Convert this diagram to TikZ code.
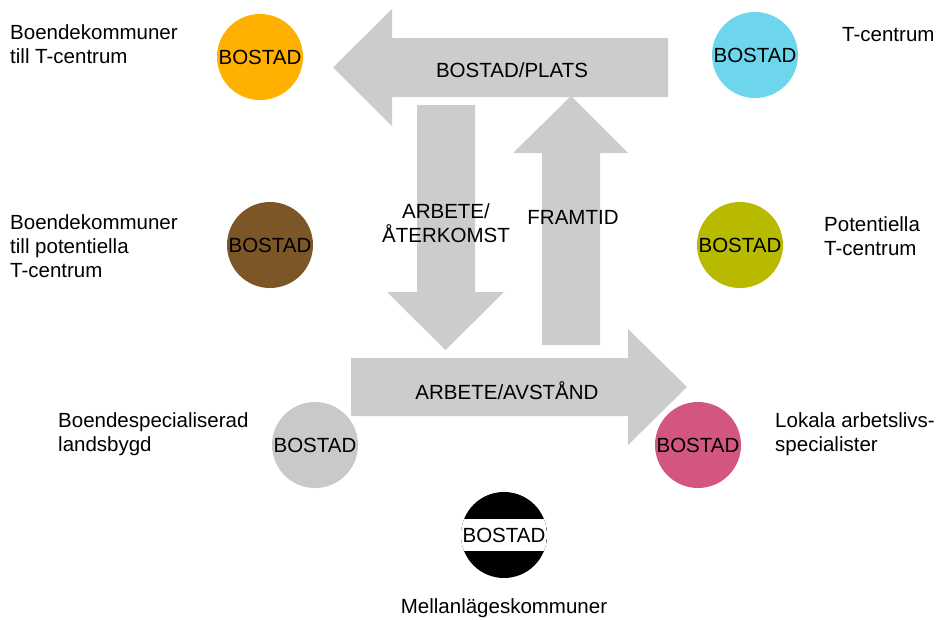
\documentclass[tikz,border=0pt]{standalone}
\usepackage{fontspec}
\setmainfont{Liberation Sans}
\usepackage{tikz}
\usetikzlibrary{positioning, calc}
\definecolor{arrowgrey}{HTML}{CCCCCC}
\definecolor{tcorange}{HTML}{FFB000}
\definecolor{tccyan}{HTML}{6DD6EC}
\definecolor{potbrown}{HTML}{7C5627}
\definecolor{potolive}{HTML}{B8BA00}
\definecolor{landgrey}{HTML}{C9C9C9}
\definecolor{lokpink}{HTML}{D2567F}

\begin{document}
\begin{tikzpicture}[
          x=1pt, y=-1pt,
          font=\fontsize{20.5}{24}\selectfont,
          bostad/.style={circle, minimum size=86pt, inner sep=0pt, text=black},
          flow/.style={fill=arrowgrey, draw=none},
          kind/.style={anchor=west, align=left, inner sep=0pt},
          flowtext/.style={align=center, inner sep=0pt}
        ]
        \useasboundingbox (0,0) rectangle (939,619);
        % big arrows
        \fill[flow] (668,38) -- (392,38) -- (392,9) -- (333,67.5) -- (392,126) -- (392,97) -- (668,97) -- cycle;
        \fill[flow] (417,105) -- (475,105) -- (475,292) -- (504,292) -- (445.5,350) -- (387,292) -- (417,292) -- cycle;
        \fill[flow] (542,345) -- (600,345) -- (600,153) -- (628,153) -- (571,96) -- (513,153) -- (542,153) -- cycle;
        \fill[flow] (351,358) -- (628,358) -- (628,329) -- (687,387) -- (628,445) -- (628,416) -- (351,416) -- cycle;
        \node[flowtext] (plats) at (512,70) {BOSTAD/PLATS};
        \node[flowtext] (aterkomst) at (446,223) {ARBETE/\\ÅTERKOMST};
        \node[flowtext] (framtid) at (573,217) {FRAMTID};
        \node[flowtext] (avstand) at (507,391) {ARBETE/AVSTÅND};
        % kommuntyper
        \node[bostad, fill=tcorange] (btc) at (260,57) {BOSTAD};
        \node[bostad, fill=tccyan] (tc) at (755,55) {BOSTAD};
        \node[bostad, fill=potbrown] (bpot) at (270,245) {BOSTAD};
        \node[bostad, fill=potolive] (pot) at (740,245) {BOSTAD};
        \node[bostad, fill=landgrey] (land) at (315,445) {BOSTAD};
        \node[bostad, fill=lokpink] (lok) at (698,445) {BOSTAD};
        \node[bostad, fill=black,
          path picture={\fill[white] ([yshift=-16pt]path picture bounding box.west) rectangle ([yshift=16pt]path picture bounding box.east);}
          ] (mellan) at (504,535) {BOSTAD};
        \node[kind] (btctext) at (10,44) {Boendekommuner\\till T-centrum};
        \node[kind] (tctext) at (842,35) {T-centrum};
        \node[kind] (bpottext) at (10,246) {Boendekommuner\\till potentiella\\T-centrum};
        \node[kind] (pottext) at (824,236) {Potentiella\\T-centrum};
        \node[kind] (landtext) at (58,434) {Boendespecialiserad\\landsbygd};
        \node[kind] (loktext) at (775,434) {Lokala arbetslivs-\\specialister};
        \node[flowtext, below=20pt of mellan] (mellantext) {Mellanlägeskommuner};
        \end{tikzpicture}
\end{document}
